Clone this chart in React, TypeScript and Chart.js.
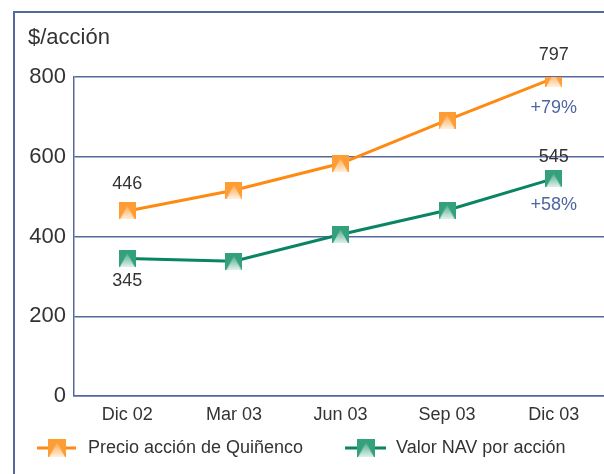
import React, { useEffect, useRef } from "react";
import { Chart, registerables } from "chart.js";

Chart.register(...registerables);

const categories = ["Dic 02", "Mar 03", "Jun 03", "Sep 03", "Dic 03"];
const precioValues = [464, 516, 583, 692, 797];
const navValues = [345, 338, 405, 466, 545];
const yTicks = [0, 200, 400, 600, 800];
const precioLabels = ["446", "", "", "", "797"];
const navLabels = ["345", "", "", "", "545"];
const precioChange = ["", "", "", "", "+79%"];
const navChange = ["", "", "", "", "+58%"];
const legendNames = ["Precio acción de Quiñenco", "Valor NAV por acción"];
const yTitle = "$/acción";

const FRAME = "#56699b";
const TEXT = "#333333";
const PCT = "#4f65a0";
const ORANGE_LINE = "#ff8a12";
const ORANGE_BOX = "#ff9d35";
const GREEN_LINE = "#0a8563";
const GREEN_BOX = "#34a07c";
const FONT = "'Liberation Sans', Arial, Helvetica, sans-serif";

function makeMarker(color: string, size: number): HTMLCanvasElement {
  const c = document.createElement("canvas");
  c.width = size;
  c.height = size;
  const g = c.getContext("2d")!;
  g.fillStyle = color;
  g.fillRect(0, 0, size, size);
  const grad = g.createLinearGradient(0, size * 0.2, 0, size);
  grad.addColorStop(0, "rgba(255,255,255,0.15)");
  grad.addColorStop(1, "rgba(255,255,255,0.85)");
  g.fillStyle = grad;
  g.beginPath();
  g.moveTo(size / 2, size * 0.2);
  g.lineTo(1, size);
  g.lineTo(size - 1, size);
  g.closePath();
  g.fill();
  return c;
}

export default function App() {
  const ref = useRef<HTMLCanvasElement | null>(null);

  useEffect(() => {
    const canvas = ref.current;
    if (!canvas) return;
    const orangeMarker = makeMarker(ORANGE_BOX, 17);
    const greenMarker = makeMarker(GREEN_BOX, 17);

    const framePlugin = {
      id: "frame",
      beforeDraw(chart: any) {
        const ctx = chart.ctx;
        ctx.save();
        ctx.strokeStyle = FRAME;
        ctx.lineWidth = 2;
        ctx.beginPath();
        ctx.moveTo(14, chart.height);
        ctx.lineTo(14, 12);
        ctx.lineTo(chart.width, 12);
        ctx.stroke();
        ctx.fillStyle = TEXT;
        ctx.font = `22px ${FONT}`;
        ctx.textAlign = "left";
        ctx.textBaseline = "middle";
        ctx.fillText(yTitle, 28, 38);
        ctx.restore();
      },
      afterDatasetsDraw(chart: any) {
        const ctx = chart.ctx;
        const xs = chart.scales.x;
        const ys = chart.scales.y;
        ctx.save();
        ctx.textAlign = "center";
        ctx.textBaseline = "middle";
        ctx.font = `18px ${FONT}`;
        const put = (arr: string[], vals: number[], dy: number, color: string) => {
          arr.forEach((t, i) => {
            if (!t) return;
            ctx.fillStyle = color;
            ctx.fillText(t, xs.getPixelForValue(i), ys.getPixelForValue(vals[i]) + dy);
          });
        };
        put(precioLabels.map((t, i) => (i === 0 ? t : "")), precioValues, -27, TEXT);
        put(precioLabels.map((t, i) => (i === 4 ? t : "")), precioValues, -23, TEXT);
        put(navLabels.map((t, i) => (i === 0 ? t : "")), navValues, 23, TEXT);
        put(navLabels.map((t, i) => (i === 4 ? t : "")), navValues, -22, TEXT);
        put(precioChange, precioValues, 30, PCT);
        put(navChange, navValues, 26, PCT);

        // legend
        const ly = 448;
        const items = [
          { x0: 37, x1: 76, mx: 57, tx: 88, line: ORANGE_LINE, m: orangeMarker, name: legendNames[0] },
          { x0: 345, x1: 386, mx: 366, tx: 396, line: GREEN_LINE, m: greenMarker, name: legendNames[1] },
        ];
        items.forEach((it) => {
          ctx.strokeStyle = it.line;
          ctx.lineWidth = 3;
          ctx.beginPath();
          ctx.moveTo(it.x0, ly);
          ctx.lineTo(it.x1, ly);
          ctx.stroke();
          ctx.drawImage(it.m, it.mx - 9, ly - 9, 18, 18);
          ctx.fillStyle = TEXT;
          ctx.textAlign = "left";
          ctx.font = `18px ${FONT}`;
          ctx.fillText(it.name, it.tx, ly);
        });
        ctx.restore();
      },
    };

    const chart = new Chart(canvas, {
      type: "line",
      data: {
        labels: categories,
        datasets: [
          {
            label: legendNames[0],
            data: precioValues,
            borderColor: ORANGE_LINE,
            borderWidth: 3,
            pointStyle: orangeMarker as any,
            pointRadius: 9,
            tension: 0,
          },
          {
            label: legendNames[1],
            data: navValues,
            borderColor: GREEN_LINE,
            borderWidth: 3,
            pointStyle: greenMarker as any,
            pointRadius: 9,
            tension: 0,
          },
        ],
      },
      options: {
        animation: false,
        responsive: false,
        devicePixelRatio: 1,
        layout: { autoPadding: false, padding: { top: 77, left: 0, right: 0, bottom: 0 } },
        plugins: { legend: { display: false }, tooltip: { enabled: false } },
        scales: {
          x: {
            offset: true,
            grid: { display: false, drawTicks: false },
            border: { display: true, color: FRAME, width: 1.5 },
            ticks: { color: TEXT, font: { size: 18, family: FONT }, padding: 8, maxRotation: 0 },
            afterFit: (s: any) => {
              s.height = 78;
            },
          },
          y: {
            min: 0,
            max: 800,
            afterBuildTicks: (s: any) => {
              s.ticks = yTicks.map((v) => ({ value: v }));
            },
            grid: { color: FRAME, lineWidth: 1.5, drawTicks: false },
            border: { display: true, color: FRAME, width: 1.5 },
            ticks: { color: TEXT, font: { size: 22, family: FONT }, padding: 8 },
            afterFit: (s: any) => {
              s.width = 74;
            },
          },
        },
      } as any,
      plugins: [framePlugin],
    });
    return () => chart.destroy();
  }, []);

  return (
    <div style={{ position: "fixed", left: 0, top: 0, width: 604, height: 474, overflow: "hidden", background: "#fff" }}>
      <canvas ref={ref} width={607} height={474} style={{ position: "absolute", left: 0, top: 0 }} />
    </div>
  );
}
